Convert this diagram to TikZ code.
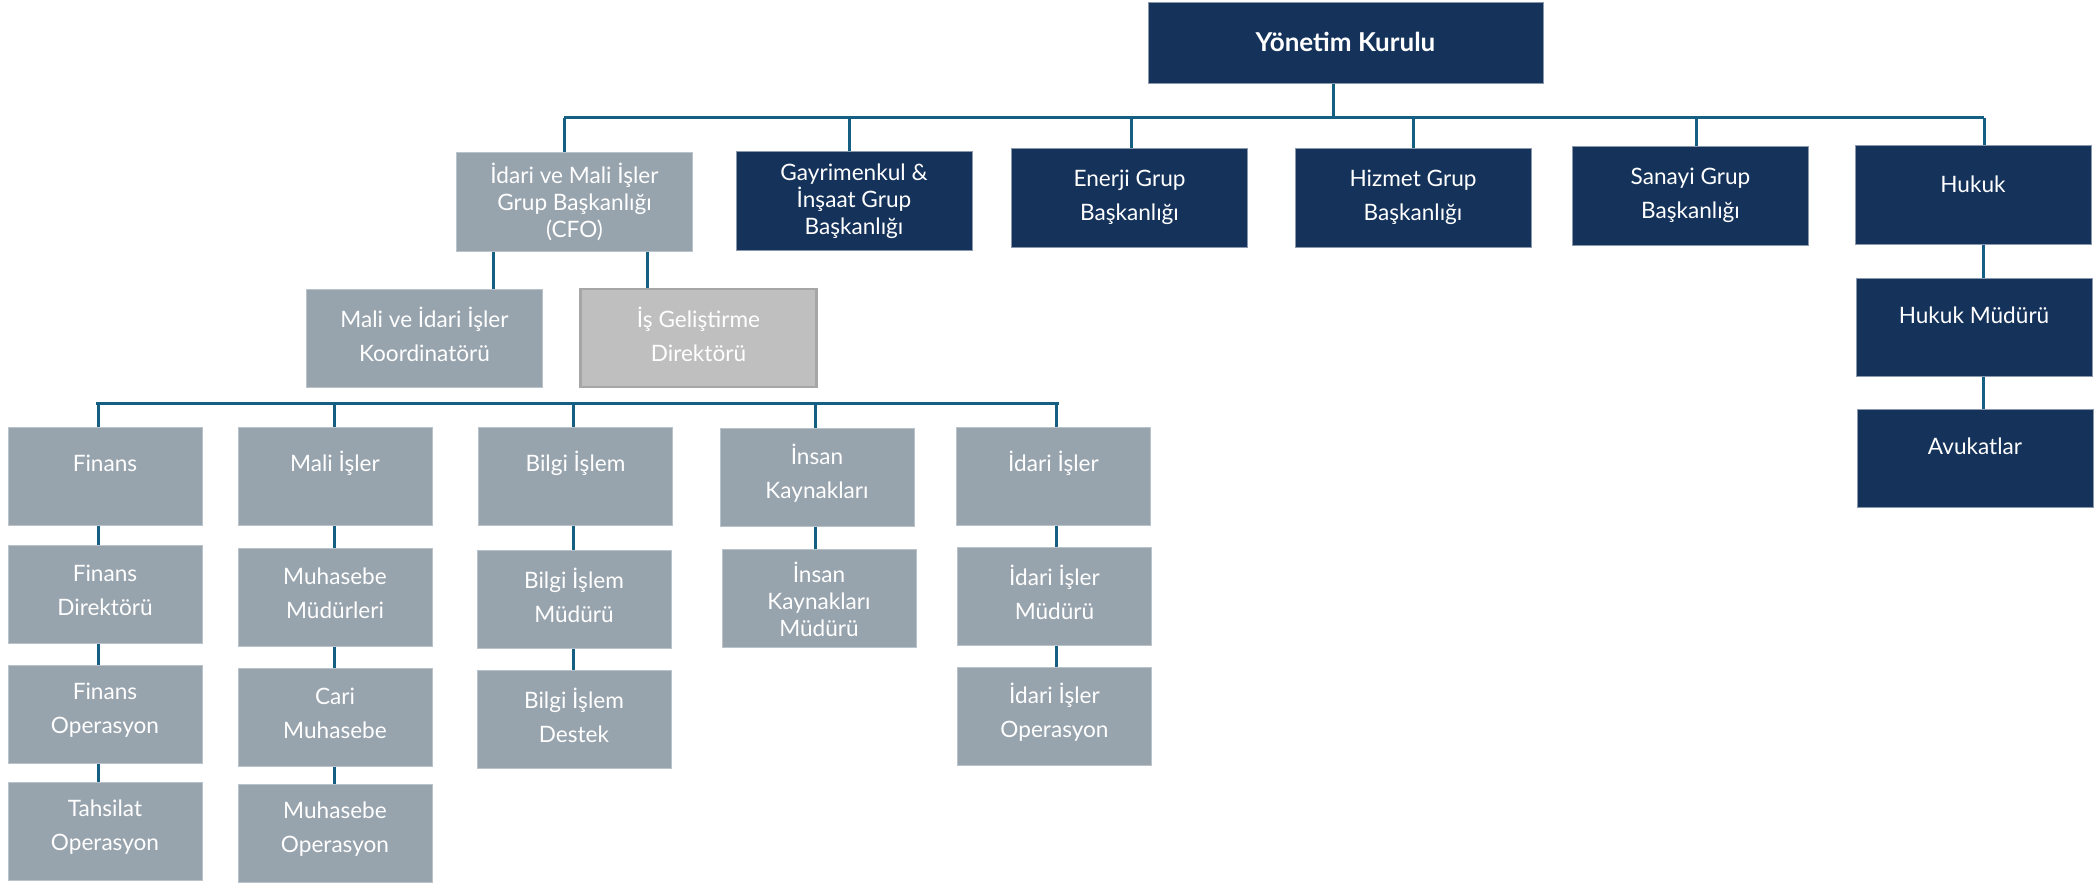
\documentclass[tikz,border=0pt]{standalone}
\usepackage{fontspec}
\setmainfont{Lato}
\definecolor{navy}{HTML}{14325A}
\definecolor{slate}{HTML}{97A3AD}
\definecolor{pale}{HTML}{BFBFBF}
\definecolor{paleedge}{HTML}{A6A6A6}
\definecolor{wire}{HTML}{156082}
\tikzset{
  box/.style={rectangle, inner sep=0pt, line width=0.5pt},
  navybox/.style={box, fill=navy, draw=white!50!navy},
  slatebox/.style={box, fill=slate, draw=white!35!slate},
  palebox/.style={box, fill=pale, draw=paleedge, line width=1.2pt},
  big/.style={minimum width=118pt, minimum height=49pt},
  small/.style={minimum width=97pt, minimum height=49pt},
  txt/.style={text=white, align=center, inner sep=0pt, font=\fontsize{11.3}{17}\selectfont},
  txtthree/.style={txt, font=\fontsize{11.3}{13.5}\selectfont},
  wirestyle/.style={draw=wire, line width=1.5pt},
}
\begin{document}
\begin{tikzpicture}[x=0.5pt, y=-0.5pt]
\useasboundingbox (0,0) rectangle (2100,883);

% ---- board ----
\node[navybox, minimum width=197.5pt, minimum height=40.5pt] (yk) at (1345.5,43.5) {};
\node[txt, font=\fontsize{13}{17}\selectfont\bfseries] (yk-t) at ([yshift=1pt]yk.center) {Yönetim Kurulu};

% ---- group presidencies ----
\node[slatebox, big] (cfo) at (574.5,202) {};
\node[txtthree] (cfo-t) at (cfo.center) {İdari ve Mali İşler\\Grup Başkanlığı\\(CFO)};
\node[navybox, big] (gyo) at (854,201) {};
\node[txtthree] (gyo-t) at (gyo.center) {Gayrimenkul \&\\İnşaat Grup\\Başkanlığı};
\node[navybox, big] (enr) at (1129.5,198) {};
\node[txt] (enr-t) at ([yshift=0.5pt]enr.center) {Enerji Grup\\Başkanlığı};
\node[navybox, big] (hiz) at (1413,198) {};
\node[txt] (hiz-t) at ([yshift=0.5pt]hiz.center) {Hizmet Grup\\Başkanlığı};
\node[navybox, big] (san) at (1690.5,196) {};
\node[txt] (san-t) at ([yshift=0.5pt]san.center) {Sanayi Grup\\Başkanlığı};
\node[navybox, big] (huk) at (1973,195) {};
\node[txt] (huk-t) at ([yshift=5.5pt]huk.center) {Hukuk};

% ---- legal chain ----
\node[navybox, big] (hmd) at (1974,327.5) {};
\node[txt] (hmd-t) at ([yshift=6pt]hmd.center) {Hukuk Müdürü};
\node[navybox, big] (avk) at (1975,458) {};
\node[txt] (avk-t) at ([yshift=6pt]avk.center) {Avukatlar};

% ---- under the CFO ----
\node[slatebox, big] (koor) at (424.5,338) {};
\node[txt] (koor-t) at ([yshift=2pt]koor.center) {Mali ve İdari İşler\\Koordinatörü};
\node[palebox, big] (isg) at (698.5,338) {};
\node[txt] (isg-t) at ([yshift=2pt]isg.center) {İş Geliştirme\\Direktörü};

% ---- departments ----
\node[slatebox, small] (fin) at (105,476) {};
\node[txt] (fin-t) at ([yshift=6.5pt]fin.center) {Finans};
\node[slatebox, small] (fdir) at (105,594.5) {};
\node[txt] (fdir-t) at ([yshift=2pt]fdir.center) {Finans\\Direktörü};
\node[slatebox, small] (fop) at (105,714.5) {};
\node[txt] (fop-t) at ([yshift=2pt]fop.center) {Finans\\Operasyon};
\node[slatebox, small] (tah) at (105,831.5) {};
\node[txt] (tah-t) at ([yshift=2pt]tah.center) {Tahsilat\\Operasyon};

\node[slatebox, small] (mali) at (335,476) {};
\node[txt] (mali-t) at ([yshift=6.5pt]mali.center) {Mali İşler};
\node[slatebox, small] (mmd) at (335,597) {};
\node[txt] (mmd-t) at ([yshift=2pt]mmd.center) {Muhasebe\\Müdürleri};
\node[slatebox, small] (cari) at (335,717) {};
\node[txt] (cari-t) at ([yshift=2pt]cari.center) {Cari\\Muhasebe};
\node[slatebox, small] (mop) at (335,833.5) {};
\node[txt] (mop-t) at ([yshift=2pt]mop.center) {Muhasebe\\Operasyon};

\node[slatebox, small] (bil) at (575.5,476) {};
\node[txt] (bil-t) at ([yshift=6.5pt]bil.center) {Bilgi İşlem};
\node[slatebox, small] (bmd) at (574,599) {};
\node[txt] (bmd-t) at ([yshift=2pt]bmd.center) {Bilgi İşlem\\Müdürü};
\node[slatebox, small] (bds) at (574,719) {};
\node[txt] (bds-t) at ([yshift=2pt]bds.center) {Bilgi İşlem\\Destek};

\node[slatebox, small] (ik) at (817,477) {};
\node[txt] (ik-t) at ([yshift=2pt]ik.center) {İnsan\\Kaynakları};
\node[slatebox, small] (ikm) at (819,598) {};
\node[txtthree] (ikm-t) at ([yshift=-0.5pt]ikm.center) {İnsan\\Kaynakları\\Müdürü};

\node[slatebox, small] (ida) at (1053.5,476) {};
\node[txt] (ida-t) at ([yshift=6.5pt]ida.center) {İdari İşler};
\node[slatebox, small] (idm) at (1054.5,596.5) {};
\node[txt] (idm-t) at ([yshift=2pt]idm.center) {İdari İşler\\Müdürü};
\node[slatebox, small] (ido) at (1054.5,716.5) {};
\node[txt] (ido-t) at ([yshift=2pt]ido.center) {İdari İşler\\Operasyon};

% ---- connector positions ----
\coordinate (b-top) at (1333,118);
\coordinate (b-cfo) at (564,118);
\coordinate (b-gyo) at (849,118);
\coordinate (b-enr) at (1131,118);
\coordinate (b-hiz) at (1413,118);
\coordinate (b-san) at (1696,118);
\coordinate (b-huk) at (1984,118);
\coordinate (x-koor) at (493,0);
\coordinate (x-isg) at (647,0);
\coordinate (x-huk) at (1983,0);
\coordinate (d-fin) at (98,403);
\coordinate (d-mali) at (334,403);
\coordinate (d-bil) at (573,403);
\coordinate (d-ik) at (815.5,403);
\coordinate (d-ida) at (1056,403);
\coordinate (d-left) at (96,403);
\coordinate (d-right) at (1059,403);

% ---- connectors ----
\draw[wirestyle] (b-top |- yk.south) -- (b-top);
\draw[wirestyle] (b-cfo) -- (b-huk);
\foreach \n in {cfo,gyo,enr,hiz,san,huk}
  \draw[wirestyle] (b-\n) -- (b-\n |- \n.north);
\draw[wirestyle] (x-koor |- cfo.south) -- (x-koor |- koor.north);
\draw[wirestyle] (x-isg |- cfo.south) -- (x-isg |- isg.north);
\draw[wirestyle] (x-huk |- huk.south) -- (x-huk |- hmd.north);
\draw[wirestyle] (x-huk |- hmd.south) -- (x-huk |- avk.north);

\draw[wirestyle] (d-left) -- (d-right);
\foreach \n in {fin,mali,bil,ik,ida}
  \draw[wirestyle] (d-\n) -- (d-\n |- \n.north);
\draw[wirestyle] (d-fin |- fin.south) -- (d-fin |- fdir.north);
\draw[wirestyle] (d-fin |- fdir.south) -- (d-fin |- fop.north);
\draw[wirestyle] (d-fin |- fop.south) -- (d-fin |- tah.north);
\draw[wirestyle] (d-mali |- mali.south) -- (d-mali |- mmd.north);
\draw[wirestyle] (d-mali |- mmd.south) -- (d-mali |- cari.north);
\draw[wirestyle] (d-mali |- cari.south) -- (d-mali |- mop.north);
\draw[wirestyle] (d-bil |- bil.south) -- (d-bil |- bmd.north);
\draw[wirestyle] (d-bil |- bmd.south) -- (d-bil |- bds.north);
\draw[wirestyle] (d-ik |- ik.south) -- (d-ik |- ikm.north);
\draw[wirestyle] (d-ida |- ida.south) -- (d-ida |- idm.north);
\draw[wirestyle] (d-ida |- idm.south) -- (d-ida |- ido.north);
\end{tikzpicture}
\end{document}
